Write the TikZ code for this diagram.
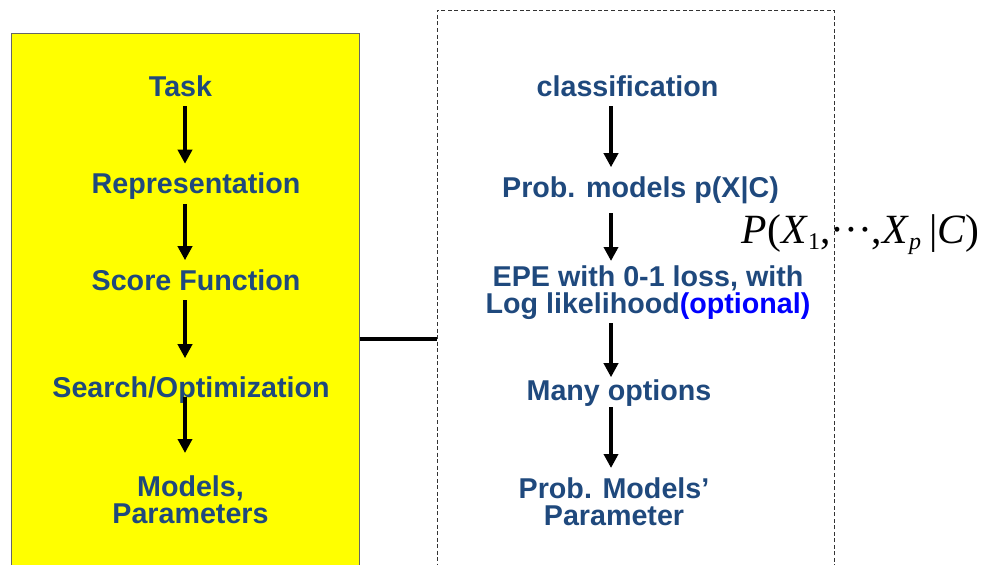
\documentclass[tikz,border=0pt]{standalone}
\usepackage{fontspec}
\setmainfont{Liberation Sans}
\newfontfamily\formulafont{Liberation Serif}
\usetikzlibrary{arrows.meta}

\definecolor{stepblue}{HTML}{1F497D}
\definecolor{optblue}{HTML}{0000FF}
\definecolor{boxyellow}{HTML}{FFFF00}
\newlength\px
\setlength\px{0.75pt}
\newcommand\stagefont{\bfseries\fontsize{21.5}{20.25}\selectfont}
\newcommand\lowidx[1]{\raisebox{-6\px}{\fontsize{18}{18}\selectfont #1}}

\begin{document}
\begin{tikzpicture}[x=0.75pt, y=-0.75pt,
    stage/.style={font=\stagefont, text=stepblue, inner sep=0pt, text height=20.5\px, text depth=6\px, anchor=base},
    stagetwo/.style={font=\stagefont, text=stepblue, inner sep=0pt, align=center, anchor=north},
    arr/.style={draw, line width=4\px, -{Triangle[length=10.5pt, width=10.5pt]}, shorten <=4\px, shorten >=9\px},
    ybox/.style={draw=black!60, line width=1\px, fill=boxyellow, minimum width=348\px, minimum height=612\px, inner sep=0pt},
    dbox/.style={draw=black!80, line width=1\px, dash pattern=on 3pt off 1.9pt, minimum width=397\px, minimum height=658\px, inner sep=0pt},
    link/.style={draw, line width=4\px}]
  \useasboundingbox (0,0) rectangle (987,564);

  % the two frames
  \node[ybox] (lbox) at (185,339) {};
  \node[dbox] (rbox) at (635.5,339) {};
  \draw[link] (lbox) -- (rbox);

  % left column
  \coordinate (lcol) at (185,0);
  \node[stage] (task) at (180.5,96) {Task};
  \node[stage] (repr) at (196,193.5) {Representation};
  \node[stage] (score) at (196,290) {Score Function};
  \node[stage] (search) at (191,397) {Search/Optimization};
  \node[stagetwo] (models) at (190.5,475) {Models,\\Parameters};

  \draw[arr] (task.south -| lcol) -- (repr.north -| lcol);
  \draw[arr] (repr.south -| lcol) -- (score.north -| lcol);
  \draw[arr, shorten >=18\px] (score.south -| lcol) -- (search.north -| lcol);
  \draw[arr, shorten <=-6\px, shorten >=22\px] (search.south -| lcol) -- (models.north -| lcol);

  % right column
  \coordinate (rcol) at (611,0);
  \node[stage] (clas) at (627.5,96) {classification};
  \node[stage] (prob) at (640.5,197) {Prob. models p(X|C)};
  \node[stagetwo] (epe) at (648,265) {EPE with 0-1 loss, with\\Log likelihood\textcolor{optblue}{(optional)}};
  \node[stage] (many) at (619,400) {Many options};
  \node[stagetwo] (param) at (614,477) {Prob. Models’\\Parameter};

  \draw[arr] (clas.south -| rcol) -- (prob.north -| rcol);
  \draw[arr, shorten <=10\px, shorten >=4\px] (prob.south -| rcol) -- (epe.north -| rcol);
  \draw[arr, shorten >=2\px] (epe.south -| rcol) -- (many.north -| rcol);
  \draw[arr, shorten <=1\px] (many.south -| rcol) -- (param.north -| rcol);

  % joint probability beside the box
  \node[font=\formulafont\fontsize{31.2}{31.2}\selectfont, inner sep=0pt, anchor=base east] (joint) at (980,243)
    {\textit{P}(\textit{X}\lowidx{1},···,\textit{X}\lowidx{\textit{p}}\hspace{0.2em}|\textit{C})};
\end{tikzpicture}
\end{document}
